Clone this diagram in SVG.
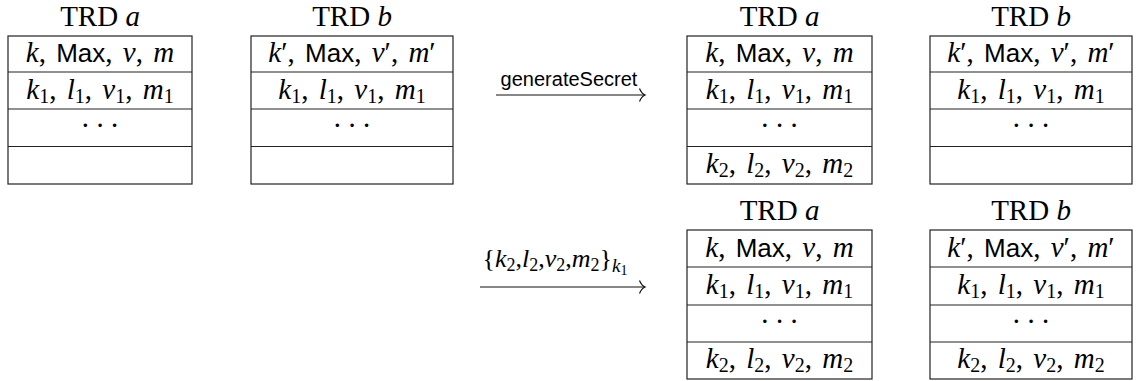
<svg xmlns="http://www.w3.org/2000/svg" width="1137" height="381" viewBox="0 0 1137 381">
<style>
.bg{fill:#fff}
.box{fill:#fff;stroke:#222;stroke-width:1.2}
.sep{stroke:#222;stroke-width:1.2}
.t{font-family:"Liberation Serif",serif;font-size:29px;fill:#000;text-anchor:middle;word-spacing:3px}
.d{font-family:"Liberation Serif",serif;font-size:29px;fill:#000;text-anchor:middle;letter-spacing:5px}
.h{font-family:"Liberation Serif",serif;font-size:29px;fill:#000;text-anchor:middle}
.i{font-style:italic}
.s{font-family:"Liberation Sans",sans-serif;font-style:normal;font-size:26px}
.lbl{font-family:"Liberation Sans",sans-serif;font-size:20px;fill:#000;text-anchor:middle}
.ml{font-family:"Liberation Serif",serif;font-size:26px;fill:#000;text-anchor:middle}
.con{fill:none;stroke:#111;stroke-width:1.2}
</style>
<rect class="bg" x="0" y="0" width="1137" height="381"/>

<g id="trd-a-1">
<text class="h" x="100" y="26">TRD <tspan class="i">a</tspan></text>
<rect class="box" x="8" y="36" width="184" height="148"/>
<line class="sep" x1="8" y1="72" x2="192" y2="72"/>
<line class="sep" x1="8" y1="109" x2="192" y2="109"/>
<line class="sep" x1="8" y1="146.5" x2="192" y2="146.5"/>
<text class="t" x="100" y="62"><tspan class="i">k</tspan>, <tspan class="s">Max</tspan>, <tspan class="i">v</tspan>, <tspan class="i">m</tspan></text>
<text class="t" x="100" y="99"><tspan class="i">k</tspan><tspan font-size="20" dy="4">1</tspan><tspan dy="-4">, </tspan><tspan class="i">l</tspan><tspan font-size="20" dy="4">1</tspan><tspan dy="-4">, </tspan><tspan class="i">v</tspan><tspan font-size="20" dy="4">1</tspan><tspan dy="-4">, </tspan><tspan class="i">m</tspan><tspan font-size="20" dy="4">1</tspan></text>
<text class="d" x="102.5" y="135">···</text>
</g>

<g id="trd-b-1">
<text class="h" x="352" y="26">TRD <tspan class="i">b</tspan></text>
<rect class="box" x="251" y="36" width="202" height="148"/>
<line class="sep" x1="251" y1="72" x2="453" y2="72"/>
<line class="sep" x1="251" y1="109" x2="453" y2="109"/>
<line class="sep" x1="251" y1="146.5" x2="453" y2="146.5"/>
<text class="t" x="352" y="62"><tspan class="i">k</tspan>′, <tspan class="s">Max</tspan>, <tspan class="i">v</tspan>′, <tspan class="i">m</tspan>′</text>
<text class="t" x="352" y="99"><tspan class="i">k</tspan><tspan font-size="20" dy="4">1</tspan><tspan dy="-4">, </tspan><tspan class="i">l</tspan><tspan font-size="20" dy="4">1</tspan><tspan dy="-4">, </tspan><tspan class="i">v</tspan><tspan font-size="20" dy="4">1</tspan><tspan dy="-4">, </tspan><tspan class="i">m</tspan><tspan font-size="20" dy="4">1</tspan></text>
<text class="d" x="354.5" y="135">···</text>
</g>

<g id="trd-a-2">
<text class="h" x="779.5" y="26">TRD <tspan class="i">a</tspan></text>
<rect class="box" x="687" y="36" width="185" height="148"/>
<line class="sep" x1="687" y1="72" x2="872" y2="72"/>
<line class="sep" x1="687" y1="109" x2="872" y2="109"/>
<line class="sep" x1="687" y1="146.5" x2="872" y2="146.5"/>
<text class="t" x="779.5" y="62"><tspan class="i">k</tspan>, <tspan class="s">Max</tspan>, <tspan class="i">v</tspan>, <tspan class="i">m</tspan></text>
<text class="t" x="779.5" y="99"><tspan class="i">k</tspan><tspan font-size="20" dy="4">1</tspan><tspan dy="-4">, </tspan><tspan class="i">l</tspan><tspan font-size="20" dy="4">1</tspan><tspan dy="-4">, </tspan><tspan class="i">v</tspan><tspan font-size="20" dy="4">1</tspan><tspan dy="-4">, </tspan><tspan class="i">m</tspan><tspan font-size="20" dy="4">1</tspan></text>
<text class="d" x="782" y="135">···</text>
<text class="t" x="779.5" y="173"><tspan class="i">k</tspan><tspan font-size="20" dy="4">2</tspan><tspan dy="-4">, </tspan><tspan class="i">l</tspan><tspan font-size="20" dy="4">2</tspan><tspan dy="-4">, </tspan><tspan class="i">v</tspan><tspan font-size="20" dy="4">2</tspan><tspan dy="-4">, </tspan><tspan class="i">m</tspan><tspan font-size="20" dy="4">2</tspan></text>
</g>

<g id="trd-b-2">
<text class="h" x="1031" y="26">TRD <tspan class="i">b</tspan></text>
<rect class="box" x="930" y="36" width="202" height="148"/>
<line class="sep" x1="930" y1="72" x2="1132" y2="72"/>
<line class="sep" x1="930" y1="109" x2="1132" y2="109"/>
<line class="sep" x1="930" y1="146.5" x2="1132" y2="146.5"/>
<text class="t" x="1031" y="62"><tspan class="i">k</tspan>′, <tspan class="s">Max</tspan>, <tspan class="i">v</tspan>′, <tspan class="i">m</tspan>′</text>
<text class="t" x="1031" y="99"><tspan class="i">k</tspan><tspan font-size="20" dy="4">1</tspan><tspan dy="-4">, </tspan><tspan class="i">l</tspan><tspan font-size="20" dy="4">1</tspan><tspan dy="-4">, </tspan><tspan class="i">v</tspan><tspan font-size="20" dy="4">1</tspan><tspan dy="-4">, </tspan><tspan class="i">m</tspan><tspan font-size="20" dy="4">1</tspan></text>
<text class="d" x="1033.5" y="135">···</text>
</g>

<g id="trd-a-3">
<text class="h" x="779.5" y="220">TRD <tspan class="i">a</tspan></text>
<rect class="box" x="687" y="230" width="185" height="149"/>
<line class="sep" x1="687" y1="267" x2="872" y2="267"/>
<line class="sep" x1="687" y1="305" x2="872" y2="305"/>
<line class="sep" x1="687" y1="342" x2="872" y2="342"/>
<text class="t" x="779.5" y="257"><tspan class="i">k</tspan>, <tspan class="s">Max</tspan>, <tspan class="i">v</tspan>, <tspan class="i">m</tspan></text>
<text class="t" x="779.5" y="294"><tspan class="i">k</tspan><tspan font-size="20" dy="4">1</tspan><tspan dy="-4">, </tspan><tspan class="i">l</tspan><tspan font-size="20" dy="4">1</tspan><tspan dy="-4">, </tspan><tspan class="i">v</tspan><tspan font-size="20" dy="4">1</tspan><tspan dy="-4">, </tspan><tspan class="i">m</tspan><tspan font-size="20" dy="4">1</tspan></text>
<text class="d" x="782" y="331">···</text>
<text class="t" x="779.5" y="368"><tspan class="i">k</tspan><tspan font-size="20" dy="4">2</tspan><tspan dy="-4">, </tspan><tspan class="i">l</tspan><tspan font-size="20" dy="4">2</tspan><tspan dy="-4">, </tspan><tspan class="i">v</tspan><tspan font-size="20" dy="4">2</tspan><tspan dy="-4">, </tspan><tspan class="i">m</tspan><tspan font-size="20" dy="4">2</tspan></text>
</g>

<g id="trd-b-3">
<text class="h" x="1031" y="220">TRD <tspan class="i">b</tspan></text>
<rect class="box" x="930" y="230" width="202" height="149"/>
<line class="sep" x1="930" y1="267" x2="1132" y2="267"/>
<line class="sep" x1="930" y1="305" x2="1132" y2="305"/>
<line class="sep" x1="930" y1="342" x2="1132" y2="342"/>
<text class="t" x="1031" y="257"><tspan class="i">k</tspan>′, <tspan class="s">Max</tspan>, <tspan class="i">v</tspan>′, <tspan class="i">m</tspan>′</text>
<text class="t" x="1031" y="294"><tspan class="i">k</tspan><tspan font-size="20" dy="4">1</tspan><tspan dy="-4">, </tspan><tspan class="i">l</tspan><tspan font-size="20" dy="4">1</tspan><tspan dy="-4">, </tspan><tspan class="i">v</tspan><tspan font-size="20" dy="4">1</tspan><tspan dy="-4">, </tspan><tspan class="i">m</tspan><tspan font-size="20" dy="4">1</tspan></text>
<text class="d" x="1033.5" y="331">···</text>
<text class="t" x="1031" y="368"><tspan class="i">k</tspan><tspan font-size="20" dy="4">2</tspan><tspan dy="-4">, </tspan><tspan class="i">l</tspan><tspan font-size="20" dy="4">2</tspan><tspan dy="-4">, </tspan><tspan class="i">v</tspan><tspan font-size="20" dy="4">2</tspan><tspan dy="-4">, </tspan><tspan class="i">m</tspan><tspan font-size="20" dy="4">2</tspan></text>
</g>

<g id="connectors">
<text class="lbl" x="569" y="86">generateSecret</text>
<line class="con" x1="496" y1="95" x2="645" y2="95"/>
<path class="con" d="M639.5,88.5 Q641.5,93.5 645,95 Q641.5,96.5 639.5,101.5"/>
<text class="ml" x="555" y="267">{<tspan class="i">k</tspan><tspan font-size="18" dy="4">2</tspan><tspan dy="-4">,</tspan><tspan class="i">l</tspan><tspan font-size="18" dy="4">2</tspan><tspan dy="-4">,</tspan><tspan class="i">v</tspan><tspan font-size="18" dy="4">2</tspan><tspan dy="-4">,</tspan><tspan class="i">m</tspan><tspan font-size="18" dy="4">2</tspan><tspan dy="-4">}</tspan><tspan class="i" font-size="19" dy="5">k</tspan><tspan font-size="14" dy="3">1</tspan></text>
<line class="con" x1="480" y1="287" x2="645" y2="287"/>
<path class="con" d="M639.5,280.5 Q641.5,285.5 645,287 Q641.5,288.5 639.5,293.5"/>
</g>
</svg>
